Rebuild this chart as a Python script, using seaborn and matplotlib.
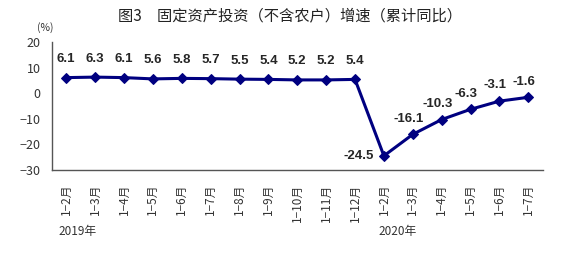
import matplotlib
matplotlib.use("Agg")
import matplotlib.pyplot as plt
import seaborn as sns
import pandas as pd

months = ["1−2月", "1−3月", "1−4月", "1−5月", "1−6月", "1−7月", "1−8月", "1−9月",
          "1−10月", "1−11月", "1−12月",
          "1−2月", "1−3月", "1−4月", "1−5月", "1−6月", "1−7月"]
values = [6.1, 6.3, 6.1, 5.6, 5.8, 5.7, 5.5, 5.4, 5.2, 5.2, 5.4,
          -24.5, -16.1, -10.3, -6.3, -3.1, -1.6]
yticks = [20, 10, 0, -10, -20, -30]

sns.set_theme(style="white")
plt.rcParams['font.family'] = ['Noto Sans CJK SC', 'DejaVu Sans']

df = pd.DataFrame({"pos": range(len(values)), "value": values})

fig = plt.figure(figsize=(5.63, 2.63), dpi=100)
ax = fig.add_axes([0.092, 0.354, 0.872, 0.486])
color = "#000080"
sns.lineplot(data=df, x="pos", y="value", ax=ax, color=color, lw=2.2,
             marker="D", markersize=5, markeredgecolor=color)

ax.set_xlim(-0.5, len(values) - 0.5)
ax.set_ylim(-30, 20)
ax.set_yticks(yticks)
ax.set_yticklabels([str(v).replace("-", "−") for v in yticks], fontsize=9, color="#333333")
ax.set_xticks([i - 0.5 for i in range(1, len(values))], minor=False)
ax.set_xticklabels([])
ax.set_xticks(range(len(values)), minor=True)
ax.set_xticklabels(months, minor=True, rotation=90, fontsize=8.5, color="#333333",
                   family=["Noto Sans CJK SC", "DejaVu Sans"])
ax.tick_params(axis="x", which="minor", length=0, pad=10)
ax.tick_params(axis="x", which="major", direction="in", length=4, color="#555555")
ax.tick_params(axis="y", direction="in", length=4, color="#555555", pad=8)
for s in ["top", "right"]:
    ax.spines[s].set_visible(False)
for s in ["left", "bottom"]:
    ax.spines[s].set_color("#555555")
    ax.spines[s].set_linewidth(1.0)
ax.set_xlabel("")
ax.set_ylabel("")

lab_font = ["Liberation Sans", "DejaVu Sans"]
for i, v in enumerate(values):
    if i < 11:
        ax.annotate(f"{v}", (i, v), xytext=(0, 9), textcoords="offset points",
                    ha="center", va="bottom", fontsize=9.5, fontweight="bold", family=lab_font)
    elif i == 11:
        ax.annotate(f"{v}", (i, v), xytext=(-7, 0), textcoords="offset points",
                    ha="right", va="center", fontsize=9.5, fontweight="bold", family=lab_font)
    else:
        ax.annotate(f"{v}", (i, v), xytext=(-3, 7), textcoords="offset points",
                    ha="center", va="bottom", fontsize=9.5, fontweight="bold", family=lab_font)

fig.text(0.515, 0.94, "图3　固定资产投资（不含农户）增速（累计同比）", ha="center", va="center",
         fontsize=11, color="#222222")
fig.text(0.08, 0.895, "(%)", ha="center", va="center", fontsize=7.5, color="#333333")
fig.text(0.137, 0.118, "2019年", ha="center", va="center", fontsize=8.5, color="#333333")
fig.text(0.707, 0.118, "2020年", ha="center", va="center", fontsize=8.5, color="#333333")

fig.savefig("out.png", dpi=100)
